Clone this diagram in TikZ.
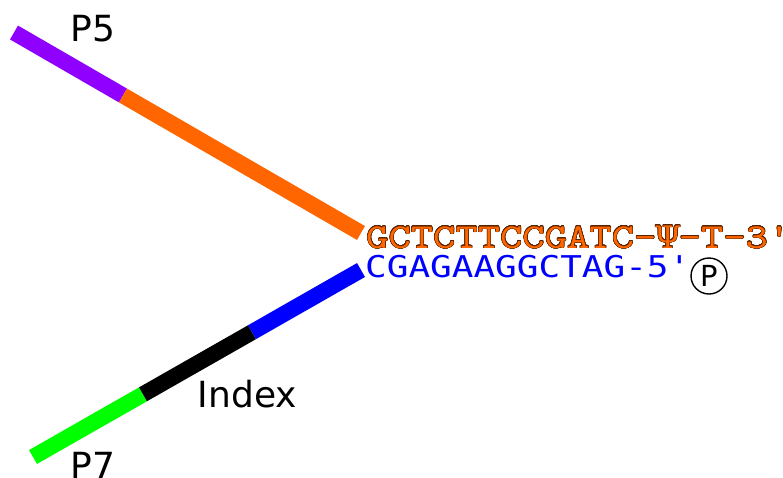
\documentclass[tikz,border=0pt]{standalone}
\usepackage{fontspec}
\usepackage{contour}
\contournumber{24}
\contourlength{0.45pt}
\newfontfamily\labelfont{DejaVu Sans}
\newfontfamily\topseqfont[FakeStretch=1.215,Ligatures=TeXOff]{lmmono10-regular.otf}
\newfontfamily\psifont[Ligatures=TeXOff]{DejaVu Serif}
\newfontfamily\botseqfont[FakeStretch=1.2,Ligatures=TeXOff]{DejaVu Sans Mono}
\definecolor{purp}{RGB}{143,0,255}
\definecolor{orng}{RGB}{255,102,0}
\definecolor{grn}{RGB}{0,255,0}
\definecolor{blu}{RGB}{0,0,255}
\definecolor{outl}{RGB}{90,35,0}
\newlength\cellw
\newcommand\mypsi{\makebox[\cellw]{\psifont\fontsize{31}{36}\selectfont Ψ}}
\begin{document}
\begin{tikzpicture}[x=1pt,y=-1pt,
  seg/.style={line width=16pt},
  lbl/.style={anchor=base west,inner sep=0pt,font=\labelfont\fontsize{36}{40}\selectfont},
  seqtop/.style={anchor=base west,inner sep=0pt,text=orng,font=\topseqfont\fontsize{35}{40}\selectfont},
  seqbot/.style={anchor=base west,inner sep=0pt,text=blu,font=\botseqfont\fontsize{30}{36}\selectfont}]
\useasboundingbox (0,0) rectangle (783,477);
% top strand
\coordinate (p5s) at (14,32.5);
\coordinate (p5e) at (123,95.5);
\coordinate (tend) at (361,233);
\draw[seg,purp] (p5s) -- (p5e);
\draw[seg,orng] (p5e) -- (tend);
% bottom strand
\coordinate (p7s) at (33,457);
\coordinate (p7e) at (143,394.3);
\coordinate (ixe) at (252,332.2);
\coordinate (bend) at (361,270);
\draw[seg,grn] (p7s) -- (p7e);
\draw[seg,black] (p7e) -- (ixe);
\draw[seg,blu] (ixe) -- (bend);
% labels
\node[lbl] (lp5) at (70.5,41) {P5};
\node[lbl] (lidx) at (197.5,407) {Index};
\node[lbl] (lp7) at (70.5,478) {P7};
% sequences
\node[seqtop] (stop) at (366,248) {\settowidth\cellw{0}\contour{outl}{GCTCTTCCGATC-\mypsi-T-3'}};
\node[seqbot] (sbot) at (365,277) {CGAGAAGGCTAG-5'};
\node[circle,draw,line width=1.4pt,minimum size=36pt,inner sep=0pt] (phos) at (709,276) {\labelfont\fontsize{29}{32}\selectfont P};
\end{tikzpicture}
\end{document}
